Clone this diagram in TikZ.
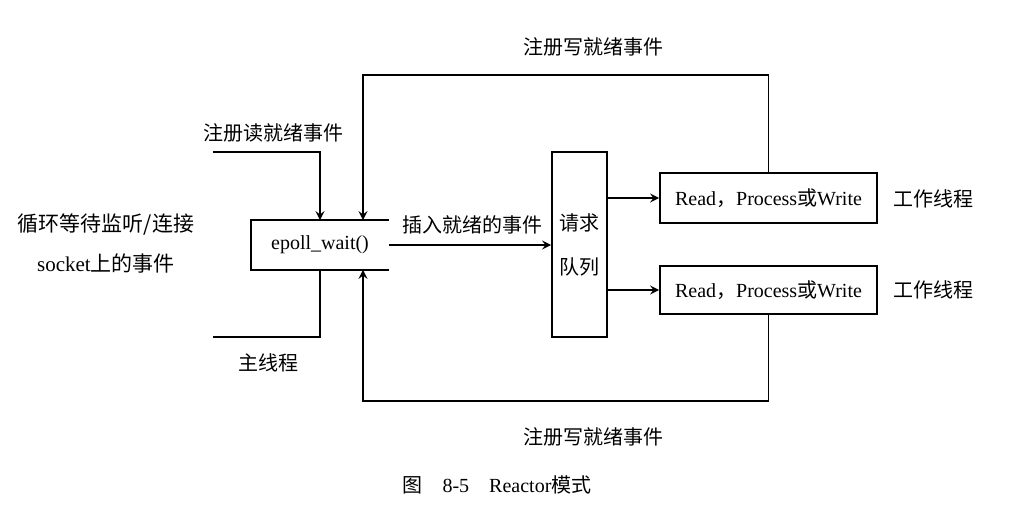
\documentclass[tikz,border=0pt]{standalone}
\usepackage{fontspec}
\setmainfont{Liberation Serif}
\newfontfamily\cjk{Noto Sans CJK SC}
\usetikzlibrary{calc}

\begin{document}
\begin{tikzpicture}[x=0.5pt, y=-0.5pt, >=stealth, line width=0.95pt]
\tikzstyle{rc_box}=[rectangle, draw, inner sep=0pt, font=\fontsize{10}{12}\selectfont]
\tikzstyle{rc_label}=[inner sep=0pt, font=\cjk\fontsize{10}{12}\selectfont]

\useasboundingbox (0,0) rectangle (1028,504);

\node at (320,245) [rc_box, draw=none, minimum width=68pt, minimum height=24pt] (Epoll) {epoll\_wait()};
\draw (Epoll.north east) -- (Epoll.north west) -- (Epoll.south west) -- (Epoll.south east);

\node at (579.5,244.5) [rc_box, minimum width=27.5pt, minimum height=92.5pt, align=center,
	font=\cjk\fontsize{10}{22}\selectfont] (Queue) {请求\\队列};

\node at (768.5,198) [rc_box, minimum width=108.5pt, minimum height=25pt] (WorkA) {Read{\cjk ，}Process{\cjk 或}Write};
\node at (768.5,290) [rc_box, minimum width=108.5pt, minimum height=24pt] (WorkB) {Read{\cjk ，}Process{\cjk 或}Write};
\node at (933,199) [rc_label] (ThreadA) {工作线程};
\node at (933,290) [rc_label] (ThreadB) {工作线程};

\node at (593,47) [rc_label] (WriteTop) {注册写就绪事件};
\node at (593,437) [rc_label] (WriteBot) {注册写就绪事件};
\node at (273,133) [rc_label] (ReadReg) {注册读就绪事件};
\node at (268,363) [rc_label] (MainThr) {主线程};
\node at (472,225) [rc_label] (Insert) {插入就绪的事件};
\node at (106,243) [rc_label, align=center, font=\cjk\fontsize{10.5}{20}\selectfont] (Loop)
	{循环等待监听/连接\\{\rmfamily socket}上的事件};

\node at (497,485) [inner sep=0pt, font=\fontsize{10}{12}\selectfont] (Caption)
	{{\cjk 图}\hspace{10pt}8-5\hspace{10pt}Reactor{\cjk 模式}};

\coordinate (ReadIn) at (213,152);
\coordinate (MainOut) at (213,337);
\coordinate (LoopTop) at (363,75);
\coordinate (LoopBot) at (363,401);

\draw[->] (ReadIn) -| (Epoll.north);
\draw (Epoll.south) |- (MainOut);
\draw[->] (WorkA.north) |- (LoopTop) -- (LoopTop |- Epoll.north);
\draw[->] (WorkB.south) |- (LoopBot) -- (LoopBot |- Epoll.south);
\draw[->] (Epoll.east) -- (Epoll.east -| Queue.west);
\draw[->] (Queue.east |- WorkA.west) -- (WorkA.west);
\draw[->] (Queue.east |- WorkB.west) -- (WorkB.west);

\end{tikzpicture}
\end{document}
